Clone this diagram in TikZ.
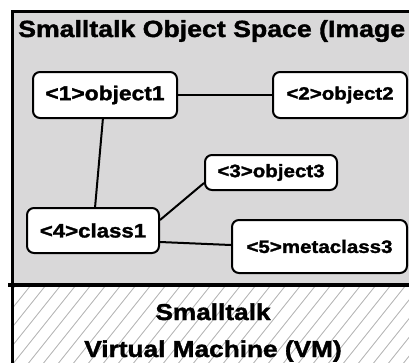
\documentclass[tikz,border=0pt]{standalone}
\usepackage{fontspec}
\setmainfont{Liberation Sans}[FakeStretch=1.14, BoldFeatures={FakeBold=1.6}]
\usetikzlibrary{calc}
\definecolor{spacegray}{HTML}{D9D8D9}
\definecolor{hatchgray}{HTML}{B8B8B8}
\begin{document}
\begin{tikzpicture}[x=1pt,y=-1pt,
  obj/.style={draw=black, fill=white, line width=2pt, rounded corners=7pt,
    inner sep=0pt, font=\bfseries},
  link/.style={draw=black, line width=2pt},
  big/.style={font=\fontsize{23}{27}\selectfont\bfseries, inner sep=0pt}]
\useasboundingbox (0,0) rectangle (409,362);
\begin{scope}
\clip (0,0) rectangle (409,362);
% object space panel
\draw[fill=spacegray, line width=3pt] (12,11) rectangle (430,285);
% virtual machine panel with hatching
\begin{scope}
  \clip (12,285) rectangle (430,380);
  \foreach \i in {-120,-105,...,420}
    \draw[hatchgray, line width=0.9pt] (\i,380) -- ++(90,-112.5);
\end{scope}
\draw[line width=3pt] (12,285) rectangle (430,380);
\draw[line width=4.5pt] (8,285) -- (430,285);
\end{scope}
% captions
\node[big, font=\fontsize{23.4}{27}\selectfont\bfseries, anchor=base west] (title) at (18,37) {Smalltalk Object Space (Image};
\node[big, anchor=base] (vma) at (213,320) {Smalltalk};
\node[big, anchor=base] (vmb) at (213,357) {Virtual Machine (VM)};
% objects
\node[obj, minimum width=144pt, minimum height=46pt, font=\fontsize{20}{24}\selectfont\bfseries] (o1) at (105,95) {<1>object1};
\node[obj, minimum width=134pt, minimum height=46pt, font=\fontsize{18}{22}\selectfont\bfseries] (o2) at (340,95) {<2>object2};
\node[obj, minimum width=132pt, minimum height=35pt, font=\fontsize{18}{22}\selectfont\bfseries] (o3) at (271,172.5) {<3>object3};
\node[obj, minimum width=132pt, minimum height=45pt, font=\fontsize{19.5}{23}\selectfont\bfseries] (c1) at (93,230.5) {<4>class1};
\node[obj, minimum width=175pt, minimum height=53pt, font=\fontsize{18}{22}\selectfont\bfseries] (m3) at (319.5,246.5) {<5>metaclass3};
% references between objects
\draw[link] (o1.east) -- (o2.west);
\draw[link] (o1) -- (c1);
\draw[link] ($(c1.east)+(0,-10.5)$) -- ($(o3.west)+(0,10.5)$);
\draw[link] ($(c1.east)+(0,11.5)$) -- ($(m3.west)+(0,-1.5)$);
\end{tikzpicture}
\end{document}
